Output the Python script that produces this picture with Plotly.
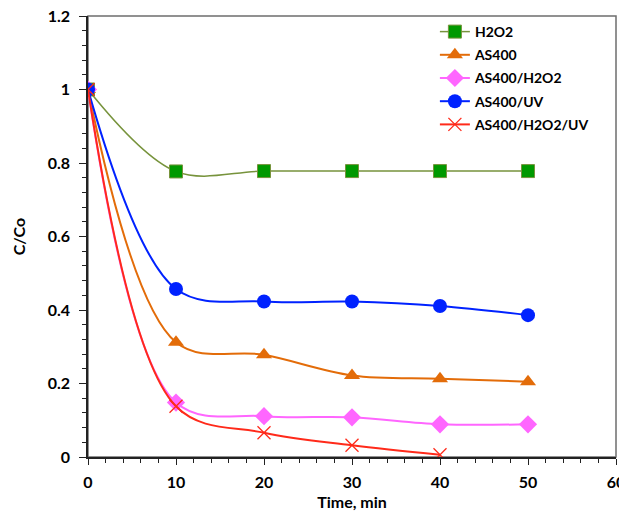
import plotly.graph_objects as go

time_min = [0, 10, 20, 30, 40, 50]
h2o2 = [1.0, 0.777, 0.778, 0.778, 0.778, 0.778]
as400 = [1.0, 0.312, 0.278, 0.222, 0.213, 0.205]
as400_h2o2 = [1.0, 0.148, 0.111, 0.108, 0.089, 0.089]
as400_uv = [1.0, 0.457, 0.423, 0.423, 0.411, 0.386]
time_red = [0, 10, 20, 30, 40]
as400_h2o2_uv = [1.0, 0.138, 0.066, 0.032, 0.006]

series = [
    ("H2O2", time_min, h2o2, "#77933C", dict(symbol="square", size=13, color="#009900", line=dict(color="#77933C", width=1)), 1.5),
    ("AS400", time_min, as400, "#E36C09", dict(symbol="triangle-up", size=14, color="#E36C09"), 2),
    ("AS400/H2O2", time_min, as400_h2o2, "#FF66FF", dict(symbol="diamond", size=14, color="#FF66FF"), 2),
    ("AS400/UV", time_min, as400_uv, "#0022FF", dict(symbol="circle", size=14, color="#0022FF"), 2),
    ("AS400/H2O2/UV", time_red, as400_h2o2_uv, "#FF2A1A", dict(symbol="x-thin", size=13, color="#FF2A1A", line=dict(color="#FF2A1A", width=1.3)), 2),
]

fig = go.Figure()
for i, (name, xs, ys, col, mk, lw) in enumerate(series):
    fig.add_trace(go.Scatter(
        x=xs, y=ys, name=name, mode="lines+markers", legendgroup=f"g{i}",
        line=dict(color=col, width=lw, shape="spline", smoothing=1),
        marker=mk,
    ))

font_family = "Lato, 'Open Sans', sans-serif"
fig.update_layout(
    width=619, height=503,
    margin=dict(l=80, r=11, t=8, b=54),
    paper_bgcolor="white", plot_bgcolor="white",
    font=dict(family=font_family, color="black"),
    showlegend=True,
    legend=dict(
        x=0.657, y=1.0, xanchor="left", yanchor="top",
        font=dict(size=14, family=font_family, weight="bold"),
        bgcolor="rgba(0,0,0,0)", itemwidth=30, tracegroupgap=2,
    ),
    xaxis=dict(
        range=[0, 60], tickvals=[0, 10, 20, 30, 40, 50, 60],
        showgrid=False, zeroline=False, automargin=False,
        showline=True, linecolor="#222222", linewidth=1.5,
        ticks="outside", ticklen=6, tickcolor="#222222", tickwidth=1.2,
        minor=dict(dtick=2, ticks="outside", ticklen=4, tickcolor="#222222", tickwidth=1),
        tickfont=dict(size=16, family=font_family, weight="bold"),
        ticklabelstandoff=4, ticklabeloverflow="allow",
        title=dict(text="<b>Time, min</b>", font=dict(size=16, family=font_family), standoff=12),
    ),
    yaxis=dict(
        range=[0, 1.2], tickvals=[0, 0.2, 0.4, 0.6, 0.8, 1, 1.2],
        ticktext=["0", "0.2", "0.4", "0.6", "0.8", "1", "1.2"],
        showgrid=False, zeroline=False, automargin=False,
        showline=True, linecolor="#222222", linewidth=1.5,
        ticks="outside", ticklen=7, tickcolor="#222222", tickwidth=1.2,
        minor=dict(dtick=0.04, ticks="outside", ticklen=4, tickcolor="#222222", tickwidth=1),
        tickfont=dict(size=16, family=font_family, weight="bold"),
        ticklabelstandoff=6, ticklabeloverflow="allow",
        title=dict(text="<b>C/Co</b>", font=dict(size=16, family=font_family), standoff=18),
    ),
    shapes=[dict(type="rect", xref="paper", yref="paper", x0=0, y0=0, x1=1, y1=1,
                 line=dict(color="#6E6E6E", width=1.5), layer="below")],
)

fig.write_html("out.html")
